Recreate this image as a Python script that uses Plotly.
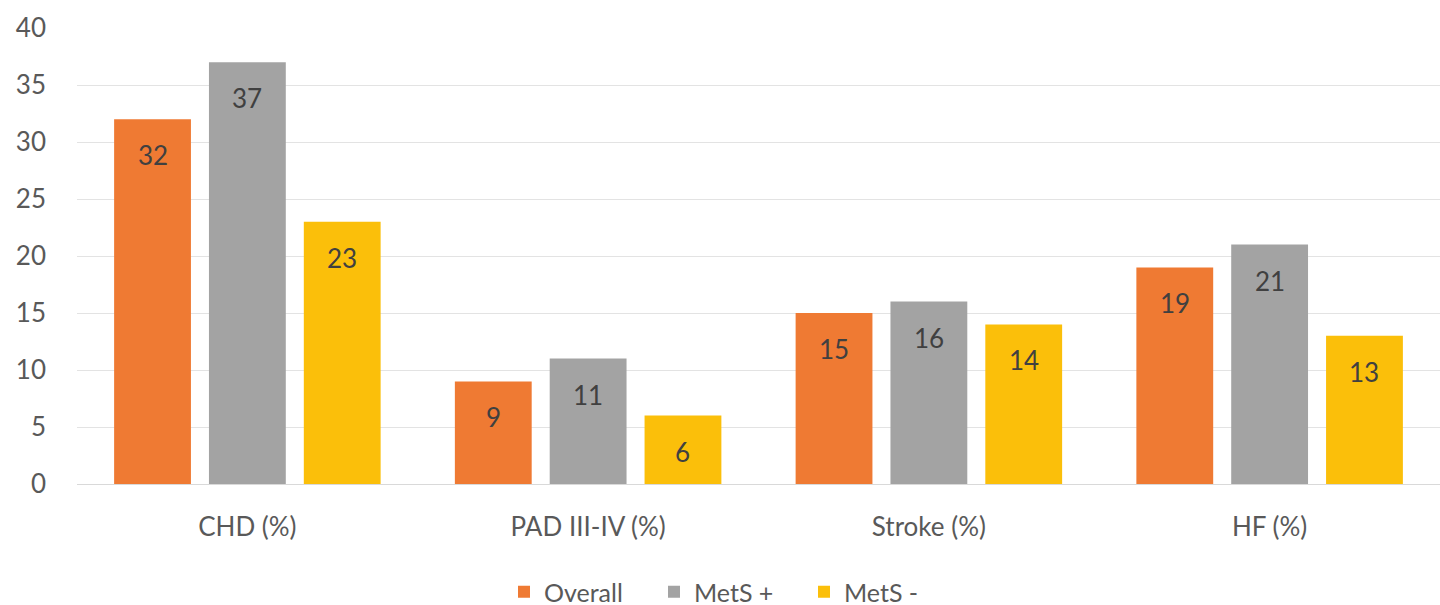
import plotly.graph_objects as go

categories = ["CHD (%)", "PAD III-IV (%)", "Stroke (%)", "HF (%)"]
overall = [32, 9, 15, 19]
mets_pos = [37, 11, 16, 21]
mets_neg = [23, 6, 14, 13]
series_names = ["Overall", "MetS +", "MetS -"]
series_values = [overall, mets_pos, mets_neg]
colors = ["#EF7A33", "#A3A3A3", "#FBBF0A"]

FONT = "Lato, Open Sans, sans-serif"
W, H = 1440, 605
ml, mr, mt, mb = 77, 0, 28, 121
bargap = 0.165
bargroupgap = 0.19

fig = go.Figure()
for name, vals, col in zip(series_names, series_values, colors):
    fig.add_trace(go.Bar(
        x=categories, y=vals, name=name,
        marker=dict(color=col, line=dict(width=0)),
    ))

# value labels inside bars, near the top
plot_w = W - ml - mr
cat_w = plot_w / len(categories)
slot = cat_w * (1 - bargap) / len(series_names)
for i, vals in enumerate(series_values):
    for c, v in zip(categories, vals):
        fig.add_annotation(
            x=c, y=v, xref="x", yref="y", text=str(v), showarrow=False,
            yanchor="top", yshift=-18, xshift=(i - 1) * slot,
            font=dict(family=FONT, size=26, color="#404040"),
        )

plot_h = H - mt - mb
fig.update_layout(
    width=W, height=H,
    margin=dict(l=ml, r=mr, t=mt, b=mb, autoexpand=False),
    paper_bgcolor="white", plot_bgcolor="white",
    barmode="group", bargap=bargap, bargroupgap=bargroupgap,
    font=dict(family=FONT, size=26, color="#595959"),
    showlegend=True,
    legend=dict(
        orientation="h", x=(729 - ml) / plot_w, xanchor="center",
        y=-(592 - (H - mb)) / plot_h, yanchor="middle",
        font=dict(family=FONT, size=25, color="#595959"),
        itemwidth=30, tracegroupgap=0, entrywidth=105,
    ),
    xaxis=dict(
        showgrid=False, showline=True, linecolor="#D9D9D9", linewidth=1,
        ticks="", ticklabelstandoff=20,
        tickfont=dict(family=FONT, size=26, color="#595959"),
    ),
    yaxis=dict(
        range=[0, 40], dtick=5, showgrid=True, gridcolor="#E3E3E3", gridwidth=1,
        zeroline=False, showline=False, ticks="", ticklabelstandoff=30,
        tickfont=dict(family=FONT, size=26, color="#595959"),
    ),
)

fig.write_html(
    "out.html",
    config={"displayModeBar": False},
    post_script="document.body.style.margin='0';document.body.style.overflow='hidden';",
)
